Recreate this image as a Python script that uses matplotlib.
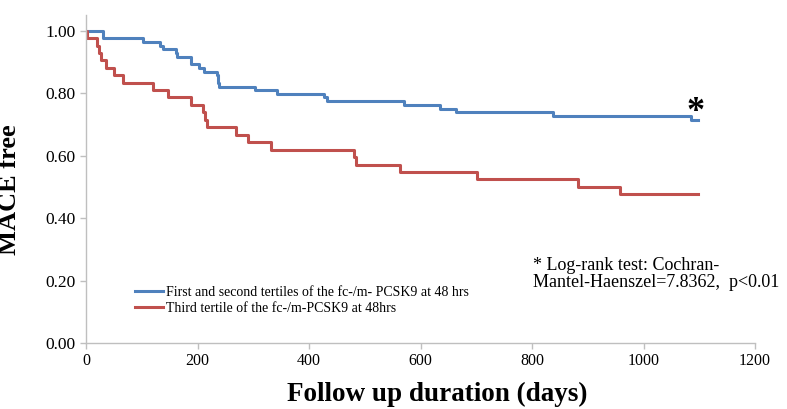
import matplotlib

matplotlib.use("Agg")
import matplotlib.pyplot as plt

# Kaplan-Meier steps (days, survival)
blue_days = [0, 30, 102, 133, 138, 161, 163, 188, 203, 212, 234, 235.5, 237, 239,
             302, 342, 427, 432, 570, 635, 664, 838, 1085, 1098]
blue_surv = [1.000, 0.976, 0.964, 0.952, 0.940, 0.929, 0.917, 0.893, 0.881, 0.869,
             0.857, 0.845, 0.833, 0.821, 0.810, 0.798, 0.786, 0.774, 0.762, 0.750,
             0.738, 0.726, 0.714, 0.714]

red_days = [0, 1, 19, 22, 26, 36, 49, 66, 120, 146, 187, 210, 213, 217, 268, 291,
            332, 481, 484, 563, 701, 882, 957, 1098]
red_surv = [1.000, 0.976, 0.952, 0.929, 0.905, 0.881, 0.857, 0.833, 0.810, 0.786,
            0.762, 0.738, 0.714, 0.690, 0.667, 0.643, 0.619, 0.595, 0.571, 0.548,
            0.524, 0.500, 0.476, 0.476]

x_ticks = [0, 200, 400, 600, 800, 1000, 1200]
y_ticks = [0.0, 0.2, 0.4, 0.6, 0.8, 1.0]

blue_label = "First and second tertiles of the fc-/m- PCSK9 at 48 hrs"
red_label = "Third tertile of the fc-/m-PCSK9 at 48hrs"

plt.rcParams['font.family'] = ['Liberation Serif', 'DejaVu Serif']

fig = plt.figure(figsize=(7.87, 4.09), dpi=100)
ax = fig.add_axes([86.3 / 787, 1 - 343 / 409, (755 - 86.3) / 787, (343 - 15) / 409])

ax.step(blue_days, blue_surv, where='post', color='#4F81BD', linewidth=2.2, label=blue_label)
ax.step(red_days, red_surv, where='post', color='#C0504D', linewidth=2.2, label=red_label)

ax.set_xlim(0, 1200)
ax.set_ylim(0, 1.05)
ax.set_xticks(x_ticks)
ax.set_xticklabels([str(t) for t in x_ticks])
ax.set_yticks(y_ticks)
ax.set_yticklabels([f"{t:.2f}" for t in y_ticks])

for side in ['top', 'right']:
    ax.spines[side].set_visible(False)
for side in ['left', 'bottom']:
    ax.spines[side].set_color('#BFBFBF')
    ax.spines[side].set_linewidth(1.0)
ax.tick_params(axis='both', colors='#BFBFBF', labelcolor='black', labelsize=11.5,
               length=4, width=1.0, direction='out')
ax.tick_params(axis='x', pad=3.5)
ax.tick_params(axis='y', labelsize=12.5)

fig.text(10 / 787, 1 - 190 / 409, "MACE free", rotation=90, fontsize=19,
         fontweight='bold', ha='center', va='center')
fig.text(437 / 787, 1 - 394 / 409, "Follow up duration (days)", fontsize=19.5,
         fontweight='bold', ha='center', va='center')

ax.legend(loc='upper left', bbox_to_anchor=(122.5 / 787, 1 - 273 / 409),
          bbox_transform=fig.transFigure, frameon=False, fontsize=10,
          handlelength=2.0, handletextpad=0.25, labelspacing=0.25)

fig.text(533 / 787, 1 - 274 / 409, "* Log-rank test: Cochran-\nMantel-Haenszel=7.8362,  p<0.01",
         fontsize=13, ha='left', va='center', linespacing=0.94)

ax.text(1093, 0.686, "*", fontsize=26, fontweight='bold', ha='center', va='bottom')

fig.savefig("out.png", dpi=100)
